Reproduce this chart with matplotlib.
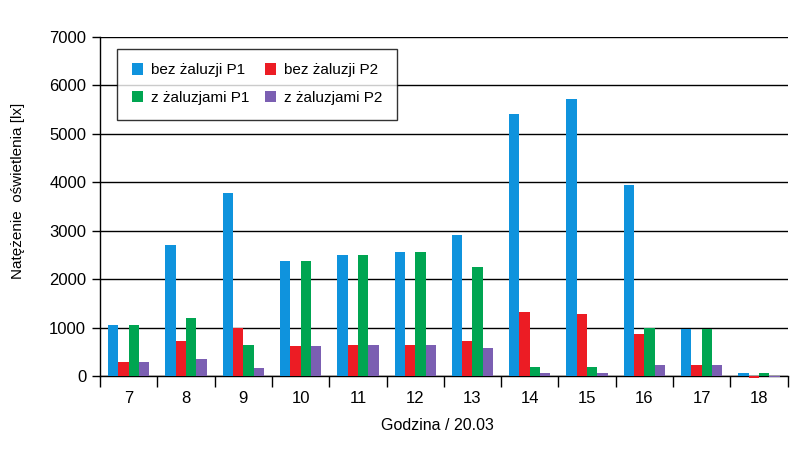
import matplotlib
matplotlib.use("Agg")
import matplotlib.pyplot as plt
import numpy as np
from matplotlib.patches import Patch

plt.rcParams['font.family'] = ['Liberation Sans', 'DejaVu Sans']

hours = ['7', '8', '9', '10', '11', '12', '13', '14', '15', '16', '17', '18']
bez_p1 = [1050, 2700, 3780, 2370, 2500, 2570, 2920, 5400, 5720, 3950, 980, 70]
bez_p2 = [300, 720, 1000, 620, 650, 650, 720, 1320, 1290, 870, 240, -30]
z_p1 = [1050, 1200, 650, 2370, 2500, 2570, 2250, 200, 200, 1000, 980, 70]
z_p2 = [300, 350, 170, 620, 650, 650, 590, 60, 60, 240, 240, -20]

series = [
    ("bez żaluzji P1", bez_p1, "#0f93dd"),
    ("bez żaluzji P2", bez_p2, "#ec1c24"),
    ("z żaluzjami P1", z_p1, "#00a551"),
    ("z żaluzjami P2", z_p2, "#7b5fb2"),
]

fig = plt.figure(figsize=(8.07, 4.5), dpi=100)
ax = fig.add_axes([0.124, 0.164, 0.852, 0.754])

x = np.arange(len(hours))
w = 0.18
for i, (name, vals, col) in enumerate(series):
    ax.bar(x + (i - 1.5) * w, vals, width=w, color=col, zorder=3,
           label=name, clip_on=False)

ax.set_xlim(-0.5, len(hours) - 0.5)
ax.set_ylim(0, 7000)
ax.set_yticks(range(0, 7001, 1000))
ax.yaxis.grid(True, color='black', linewidth=1.0, zorder=1)
ax.set_axisbelow(True)
for s in ['top', 'right']:
    ax.spines[s].set_visible(False)
ax.spines['left'].set_linewidth(1.0)
ax.spines['bottom'].set_linewidth(1.0)
ax.spines['bottom'].set_zorder(2.5)

ax.set_xticks(x)
ax.set_xticklabels(hours)
ax.tick_params(axis='x', which='major', length=0, pad=11, labelsize=12)
ax.set_xticks(np.arange(-0.5, len(hours), 1), minor=True)
ax.tick_params(axis='x', which='minor', length=8, width=1, direction='out')
ax.tick_params(axis='y', length=6, width=1, labelsize=12, pad=4)

ax.set_xlabel("Godzina / 20.03", fontsize=11.5)
ax.xaxis.set_label_coords(0.49, -0.122)
ax.set_ylabel("Natężenie  oświetlenia [lx]", fontsize=11)
ax.yaxis.set_label_coords(-0.109, 0.546)

order = [0, 2, 1, 3]
handles = [Patch(facecolor=series[k][2], label=series[k][0]) for k in order]
leg = ax.legend(handles=handles, ncol=2, loc='upper left',
                bbox_to_anchor=(0.025, 0.965), borderaxespad=0, frameon=True,
                fancybox=False, edgecolor='black', fontsize=11,
                handlelength=0.75, handleheight=0.75, columnspacing=1.0,
                handletextpad=0.5, borderpad=0.95, labelspacing=0.9)
leg.get_frame().set_linewidth(1.0)
leg.set_zorder(5)

fig.savefig("out.png", dpi=100)
